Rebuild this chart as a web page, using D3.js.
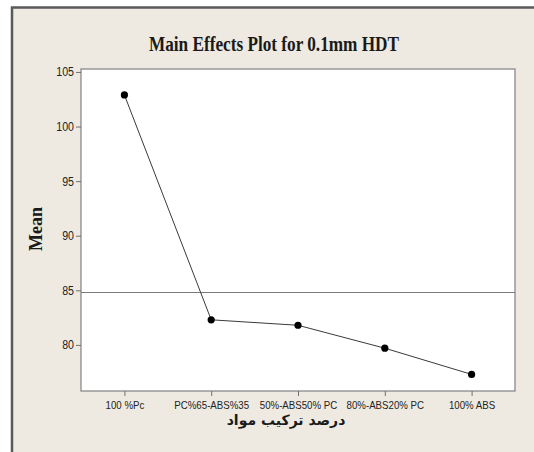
<!DOCTYPE html>
<html>
<head>
<meta charset="utf-8">
<script src="https://cdn.jsdelivr.net/npm/d3@7"></script>
<style>
  body { margin: 0; background: #fff; }
</style>
</head>
<body>
<div id="chart"></div>
<script>
// data
var levels = ["100 %Pc", "PC%65-ABS%35", "50%-ABS50% PC", "80%-ABS20% PC", "100% ABS"];
var means = [102.9, 82.3, 81.8, 79.7, 77.3];
var yTicks = [80, 85, 90, 95, 100, 105];

var W = 534, H = 452;
var margin = {top: 69, right: 19, bottom: 61, left: 81},
    width = W - margin.left - margin.right,
    height = H - margin.top - margin.bottom;

var svg = d3.select("#chart")
  .append("svg")
    .attr("width", W)
    .attr("height", H);

// beige panel with dark frame at top / left
svg.append("rect")
  .attr("x", 12).attr("y", 7.5)
  .attr("width", W - 12).attr("height", H - 7.5)
  .attr("fill", "#eeeae1");
svg.append("path")
  .attr("d", "M12," + H + "V7.5H" + W)
  .attr("fill", "none")
  .attr("stroke", "#5a5a5a")
  .attr("stroke-width", 2.5);

var canvas = svg.append("g")
  .attr("transform", "translate(" + margin.left + "," + margin.top + ")");

var x = d3.scalePoint()
  .domain(levels)
  .range([0, width])
  .padding(0.5);

var y = d3.scaleLinear()
  .domain([75.78, 105.27])
  .range([height, 0]);

canvas.append("rect")
  .attr("width", width)
  .attr("height", height)
  .attr("fill", "#fff")
  .attr("stroke", "#808080")
  .attr("stroke-width", 1.2);

// axes
var xAxis = canvas.append("g")
  .attr("transform", "translate(0," + height + ")")
  .call(d3.axisBottom(x).tickSize(5).tickSizeOuter(0));
var yAxis = canvas.append("g")
  .call(d3.axisLeft(y).tickValues(yTicks).tickSize(5).tickSizeOuter(0));

[xAxis, yAxis].forEach(function(a) {
  a.select(".domain").remove();
  a.selectAll("line").attr("stroke", "#707070");
  a.selectAll("text")
    .attr("fill", "#222")
    .style("font-family", "'Liberation Sans', Arial, sans-serif");
});
xAxis.selectAll("text").style("font-size", "11px").attr("y", 10);
yAxis.selectAll("text").style("font-size", "12.5px").attr("x", -7);

// the original labels are narrow (Tahoma-like), squeeze a bit
xAxis.selectAll("text").each(function() {
  d3.select(this)
    .attr("textLength", this.getComputedTextLength() * 0.88)
    .attr("lengthAdjust", "spacingAndGlyphs");
});
yAxis.selectAll("text").each(function() {
  d3.select(this)
    .attr("textLength", this.getComputedTextLength() * 0.85)
    .attr("lengthAdjust", "spacingAndGlyphs");
});

// grand mean reference line
var grand = d3.mean(means);
canvas.append("line")
  .attr("x1", 0).attr("x2", width)
  .attr("y1", y(grand)).attr("y2", y(grand))
  .attr("stroke", "#7a7a7a")
  .attr("stroke-width", 1.2);

// main effect line + points
var line = d3.line()
  .x(function(d, i) { return x(levels[i]); })
  .y(function(d) { return y(d); });

canvas.append("path")
  .datum(means)
  .attr("d", line)
  .attr("fill", "none")
  .attr("stroke", "#3a3a3a")
  .attr("stroke-width", 1);

canvas.selectAll("circle")
  .data(means)
  .enter()
  .append("circle")
    .attr("cx", function(d, i) { return x(levels[i]); })
    .attr("cy", function(d) { return y(d); })
    .attr("r", 3.6)
    .attr("fill", "#000");

// titles
svg.append("text")
  .attr("x", 274).attr("y", 51)
  .attr("text-anchor", "middle")
  .attr("textLength", 250)
  .attr("lengthAdjust", "spacingAndGlyphs")
  .style("font-family", "'Liberation Serif', 'Times New Roman', serif")
  .style("font-weight", "bold")
  .style("font-size", "20px")
  .attr("fill", "#1a1a1a")
  .text("Main Effects Plot for 0.1mm HDT");

svg.append("text")
  .attr("transform", "translate(42,229) rotate(-90)")
  .attr("text-anchor", "middle")
  .style("font-family", "'Liberation Serif', 'Times New Roman', serif")
  .style("font-weight", "bold")
  .style("font-size", "18px")
  .attr("fill", "#1a1a1a")
  .text("Mean");

svg.append("text")
  .attr("x", 286).attr("y", 425)
  .attr("text-anchor", "middle")
  .attr("direction", "rtl")
  .style("font-family", "'DejaVu Sans', sans-serif")
  .style("font-weight", "bold")
  .style("font-size", "14px")
  .attr("fill", "#1a1a1a")
  .text("درصد ترکیب مواد");
</script>
</body>
</html>
